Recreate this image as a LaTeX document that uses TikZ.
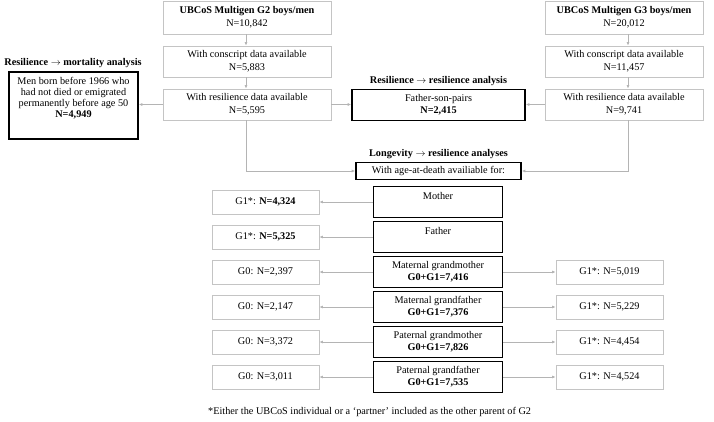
\documentclass[tikz,border=0pt]{standalone}
\usepackage{fontspec}
\setmainfont{Liberation Serif}
\usetikzlibrary{arrows.meta}
\definecolor{boxgrey}{HTML}{C4C4C4}
\definecolor{arrgrey}{HTML}{B4B4B4}
\newcommand{\fsz}{\fontsize{10.25}{13}\selectfont}
\newcommand{\fszc}{\fontsize{10.25}{12}\selectfont}
\tikzset{
  gbox/.style={draw=boxgrey, line width=0.8pt, inner sep=0pt, align=center, font=\fsz},
  kbox/.style={draw=black, line width=1.6pt, inner sep=0pt, align=center, font=\fsz},
  cbox/.style={kbox, minimum width=129pt, minimum height=31pt, font=\fszc},
  lbox/.style={gbox, minimum width=107pt, minimum height=24pt},
  arr/.style={draw=arrgrey, line width=0.9pt, -{Latex[length=3.5pt,width=3pt]}},
  ttl/.style={font=\fsz\bfseries, inner sep=0pt}
}
\begin{document}
\begin{tikzpicture}[x=1pt,y=-1pt]
\useasboundingbox (0,0) rectangle (714,421);
% G2 column
\node[gbox, minimum width=168pt, minimum height=33pt] (g2a) at (247,17.5) {\textbf{UBCoS Multigen G2 boys/men}\\N=10,842};
\node[gbox, minimum width=168pt, minimum height=31pt] (g2b) at (247,61.5) {With conscript data available\\N=5,883};
\node[gbox, minimum width=168pt, minimum height=31pt] (g2c) at (247,104.5) {With resilience data available\\N=5,595};
% G3 column
\node[gbox, minimum width=158pt, minimum height=33pt] (g3a) at (624,17.5) {\textbf{UBCoS Multigen G3 boys/men}\\N=20,012};
\node[gbox, minimum width=158pt, minimum height=31pt] (g3b) at (624,61.5) {With conscript data available\\N=11,457};
\node[gbox, minimum width=158pt, minimum height=31pt] (g3c) at (624,104.5) {With resilience data available\\N=9,741};
% mortality
\node[ttl] (mortt) at (73,63) {Resilience \(\rightarrow\) mortality analysis};
\node[kbox, minimum width=129pt, minimum height=67pt] (mort) at (73.5,105.5) {\parbox[c][57pt][t]{125pt}{\centering\fontsize{10.25}{11.2}\selectfont Men born before 1966 who\\had not died or emigrated\\permanently before age 50\\\textbf{N=4,949}}};
% father-son
\node[ttl] (fst) at (438.5,81) {Resilience \(\rightarrow\) resilience analysis};
\node[kbox, minimum width=173pt, minimum height=31pt, font=\fontsize{10.25}{11.5}\selectfont] (fs) at (438.5,104.8) {Father-son-pairs\\\textbf{N=2,415}};
% age at death
\node[ttl] (aget) at (438.5,154) {Longevity \(\rightarrow\) resilience analyses};
\node[kbox, minimum width=165pt, minimum height=17pt] (age) at (438.5,171) {With age-at-death availiable for:};
% centre boxes
\node[cbox] (mo) at (438,202) {Mother\\\mbox{}};
\node[cbox] (fa) at (438,237) {Father\\\mbox{}};
\node[cbox] (mgm) at (438,272) {Maternal grandmother\\\textbf{G0+G1=7,416}};
\node[cbox] (mgf) at (438,307) {Maternal grandfather\\\textbf{G0+G1=7,376}};
\node[cbox] (pgm) at (438,342) {Paternal grandmother\\\textbf{G0+G1=7,826}};
\node[cbox] (pgf) at (438,377) {Paternal grandfather\\\textbf{G0+G1=7,535}};
% left boxes
\node[lbox] (lmo) at (265.5,202) {G1*: \textbf{N=4,324}};
\node[lbox] (lfa) at (265.5,237) {G1*: \textbf{N=5,325}};
\node[lbox] (lmgm) at (265.5,272) {G0: N=2,397};
\node[lbox] (lmgf) at (265.5,307) {G0: N=2,147};
\node[lbox] (lpgm) at (265.5,342) {G0: N=3,372};
\node[lbox] (lpgf) at (265.5,377) {G0: N=3,011};
% right boxes
\node[lbox] (rmgm) at (609.5,272) {G1*: N=5,019};
\node[lbox] (rmgf) at (609.5,307) {G1*: N=5,229};
\node[lbox] (rpgm) at (609.5,342) {G1*: N=4,454};
\node[lbox] (rpgf) at (609.5,377) {G1*: N=4,524};
% footnote
\node[font=\fsz, anchor=west, inner sep=0pt] (fn) at (208,412) {*Either the UBCoS individual or a ‘partner’ included as the other parent of G2};
% arrows
\draw[arr] ([xshift=-1pt]g2a.south) -- ([xshift=-1pt]g2b.north);
\draw[arr] ([xshift=-1pt]g2b.south) -- ([xshift=-1pt]g2c.north);
\draw[arr] ([xshift=4pt]g3a.south) -- ([xshift=4pt]g3b.north);
\draw[arr] ([xshift=4pt]g3b.south) -- ([xshift=4pt]g3c.north);
\draw[arr] (g2c.west) -- (mort.east |- g2c.west);
\draw[arr] (g2c.east) -- (fs.west |- g2c.east);
\draw[arr] (g3c.west) -- (fs.east |- g3c.west);
\draw[arr] ([xshift=-1pt]g2c.south) |- (age.west);
\draw[arr] ([xshift=4pt]g3c.south) |- (age.east);
\foreach \c/\l in {mo/lmo, fa/lfa, mgm/lmgm, mgf/lmgf, pgm/lpgm, pgf/lpgf}
  \draw[arr] (\c.west |- \l.east) -- (\l.east);
\foreach \c/\r in {mgm/rmgm, mgf/rmgf, pgm/rpgm, pgf/rpgf}
  \draw[arr] (\c.east |- \r.west) -- (\r.west);
\end{tikzpicture}
\end{document}
